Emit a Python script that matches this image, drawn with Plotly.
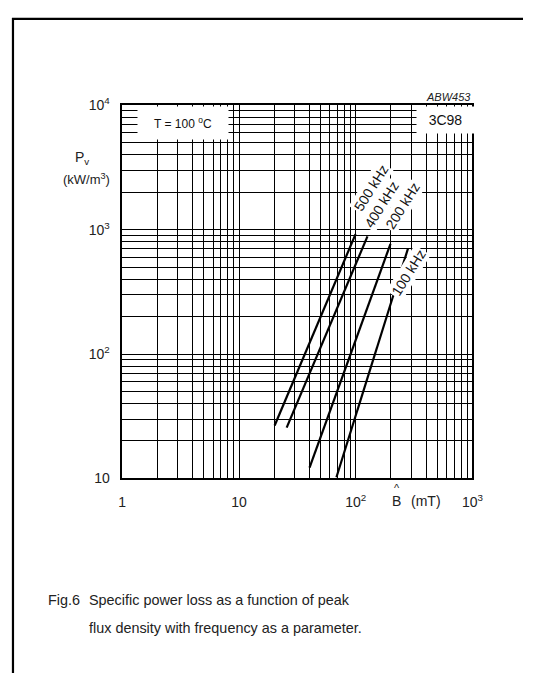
import numpy as np
import plotly.graph_objects as go

# ---- data ----
freq_labels = ["500 kHz", "400 kHz", "200 kHz", "100 kHz"]
b_500 = [20.2, 99.6]
p_500 = [26.6, 920.0]
b_400 = [25.6, 126.0]
p_400 = [25.6, 883.0]
b_200 = [40.2, 198.5]
p_200 = [12.2, 769.0]
b_100 = [68.3, 280.0]
p_100 = [10.2, 703.0]

x_tick_vals = [1, 10, 100, 1000]
x_tick_text = ["1", "10", "10<sup>2</sup>", "10<sup>3</sup>"]
y_tick_vals = [10, 100, 1000, 10000]
y_tick_text = ["10", "10<sup>2</sup>", "10<sup>3</sup>", "10<sup>4</sup>"]

# label anchor positions (B, P) for frequency labels
label_b = [136, 165, 251, 282]
label_p = [2148, 1581, 1553, 448]

# page is 542x689 with default 8px body margin -> figure 526x673
OFF = 8
W, H = 542 - 2 * OFF, 689 - 2 * OFF
x0p, x1p = 121.5, 482.0
y0p, y1p = 97.7, 481.0

def px(x):
    return (x - OFF) / W

def py(y):
    return 1 - (y - OFF) / H

minor_x = [m * 10 ** d for d in range(0, 3) for m in range(2, 10)]
minor_y = [m * 10 ** d for d in range(1, 4) for m in range(2, 10)]

fig = go.Figure()
for bx, pv in [(b_500, p_500), (b_400, p_400), (b_200, p_200), (b_100, p_100)]:
    fig.add_trace(go.Scatter(x=bx, y=pv, mode="lines",
                             line=dict(color="black", width=2.2),
                             showlegend=False, hoverinfo="skip"))

font = "Liberation Sans, Arial, sans-serif"

fig.update_xaxes(type="log", range=[0, 3], domain=[px(x0p), px(x1p)],
                 tickmode="array", tickvals=x_tick_vals, ticktext=x_tick_text,
                 showgrid=True, gridcolor="black", gridwidth=1,
                 minor=dict(tickmode="array", tickvals=minor_x, showgrid=True,
                            gridcolor="black", gridwidth=1, ticks=""),
                 showline=True, linecolor="black", linewidth=1.5, mirror=True,
                 ticks="", ticklabelstandoff=10,
                 tickfont=dict(family=font, size=14, color="#222"), zeroline=False)
fig.update_yaxes(type="log", range=[1, 4], domain=[py(y1p), py(y0p)],
                 tickmode="array", tickvals=y_tick_vals, ticktext=y_tick_text,
                 showgrid=True, gridcolor="black", gridwidth=1,
                 minor=dict(tickmode="array", tickvals=minor_y, showgrid=True,
                            gridcolor="black", gridwidth=1, ticks=""),
                 showline=True, linecolor="black", linewidth=1.5, mirror=True,
                 ticks="", ticklabelstandoff=8,
                 tickfont=dict(family=font, size=14, color="#222"), zeroline=False)

ann = []
# frequency labels
for t, b, p in zip(freq_labels, label_b, label_p):
    ann.append(dict(x=np.log10(b), y=np.log10(p), xref="x", yref="y", text=t,
                    textangle=-58, showarrow=False, bgcolor="white", borderpad=1,
                    font=dict(family=font, size=14, color="#111")))
# boxed labels
ann.append(dict(x=px(137), y=py(115.5), xref="paper", yref="paper", xanchor="left",
                yanchor="middle", text="T = 100 <sup>o</sup>C", showarrow=False,
                bgcolor="white", width=88, height=30, align="center",
                font=dict(family=font, size=12, color="#111")))
ann.append(dict(x=px(424), y=py(113), xref="paper", yref="paper", xanchor="left",
                yanchor="middle", text="3C98", showarrow=False,
                bgcolor="white", width=55, height=24, align="center",
                font=dict(family=font, size=14, color="#111")))
ann.append(dict(x=px(483), y=py(89), xref="paper", yref="paper", xanchor="right",
                yanchor="middle", text="<i>ABW453</i>", showarrow=False,
                font=dict(family=font, size=11, color="#222")))
# axis titles
ann.append(dict(x=px(80), y=py(152), xref="paper", yref="paper", xanchor="center",
                yanchor="middle", text="P<sub>v</sub>", showarrow=False,
                font=dict(family=font, size=14, color="#222")))
ann.append(dict(x=px(85), y=py(173), xref="paper", yref="paper", xanchor="center",
                yanchor="middle", text="(kW/m<sup>3</sup>)", showarrow=False,
                font=dict(family=font, size=13, color="#222")))
ann.append(dict(x=px(404), y=py(504), xref="paper", yref="paper", xanchor="center",
                yanchor="middle", text="B", showarrow=False,
                font=dict(family=font, size=14, color="#222")))
ann.append(dict(x=px(404), y=py(491), xref="paper", yref="paper", xanchor="center",
                yanchor="middle", text="^", showarrow=False,
                font=dict(family=font, size=11, color="#222")))
ann.append(dict(x=px(434), y=py(504), xref="paper", yref="paper", xanchor="center",
                yanchor="middle", text="(mT)", showarrow=False,
                font=dict(family=font, size=14, color="#222")))
# caption
ann.append(dict(x=px(43), y=py(606), xref="paper", yref="paper", xanchor="left",
                yanchor="middle", text="Fig.6", showarrow=False,
                font=dict(family=font, size=14.4, color="#222")))
ann.append(dict(x=px(85), y=py(606), xref="paper", yref="paper", xanchor="left",
                yanchor="middle", text="Specific power loss as a function of peak", showarrow=False,
                font=dict(family=font, size=14.4, color="#222")))
ann.append(dict(x=px(85), y=py(635), xref="paper", yref="paper", xanchor="left",
                yanchor="middle", text="flux density with frequency as a parameter.", showarrow=False,
                font=dict(family=font, size=14.4, color="#222")))

shapes = [
    dict(type="line", xref="paper", yref="paper", x0=0, x1=1, y0=py(9), y1=py(9),
         line=dict(color="black", width=2.2)),
    dict(type="line", xref="paper", yref="paper", x0=px(9), x1=px(9), y0=py(8), y1=0,
         line=dict(color="black", width=2.2)),
]

fig.update_layout(width=W, height=H, autosize=False,
                  margin=dict(l=0, r=0, t=0, b=0),
                  paper_bgcolor="white", plot_bgcolor="white",
                  annotations=ann, shapes=shapes, showlegend=False)

fig.write_html("out.html")
